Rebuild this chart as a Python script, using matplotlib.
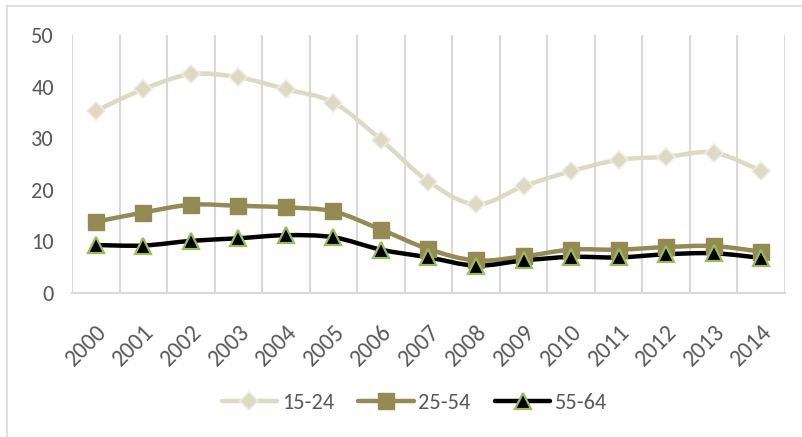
import matplotlib
matplotlib.use('Agg')
import matplotlib.pyplot as plt
from matplotlib.path import Path
from matplotlib.patches import PathPatch
from matplotlib.lines import Line2D
import numpy as np

# data
years = ['2000', '2001', '2002', '2003', '2004', '2005', '2006', '2007',
         '2008', '2009', '2010', '2011', '2012', '2013', '2014']
age_15_24 = [35.3, 39.5, 42.4, 41.8, 39.5, 36.9, 29.7, 21.6, 17.2, 20.7, 23.6, 25.8, 26.4, 27.2, 23.7]
age_25_54 = [13.8, 15.6, 17.1, 16.9, 16.6, 15.8, 12.3, 8.5, 6.3, 7.1, 8.4, 8.4, 8.9, 9.1, 8.0]
age_55_64 = [9.3, 9.2, 10.1, 10.6, 11.2, 10.8, 8.4, 6.9, 5.3, 6.3, 7.0, 6.9, 7.5, 7.7, 6.8]

plt.rcParams['font.family'] = ['Carlito', 'Lato', 'DejaVu Sans']
text_col = '#595959'
grid_col = '#D9D9D9'


def smooth_path(x, y):
    # excel style smoothed line: catmull-rom segments as cubic beziers
    x = np.asarray(x, float)
    y = np.asarray(y, float)
    verts = [(x[0], y[0])]
    codes = [Path.MOVETO]
    n = len(x)
    for i in range(n - 1):
        x0, y0 = (x[i - 1], y[i - 1]) if i > 0 else (x[i], y[i])
        x3, y3 = (x[i + 2], y[i + 2]) if i + 2 < n else (x[i + 1], y[i + 1])
        c1 = (x[i] + (x[i + 1] - x0) / 6, y[i] + (y[i + 1] - y0) / 6)
        c2 = (x[i + 1] - (x3 - x[i]) / 6, y[i + 1] - (y3 - y[i]) / 6)
        verts += [c1, c2, (x[i + 1], y[i + 1])]
        codes += [Path.CURVE4] * 3
    return Path(verts, codes)


fig = plt.figure(figsize=(8.03, 4.37), dpi=100)
ax = fig.add_axes([72 / 803, 1 - 293 / 437, (785 - 72) / 803, (293 - 35) / 437])

xs = np.arange(len(years))

series = [
    (age_15_24, '15-24', '#DDD9C3', dict(marker='D', markersize=9, markerfacecolor='#DDD9C3',
                                         markeredgecolor='#EEECE1', markeredgewidth=1.2)),
    (age_25_54, '25-54', '#948A54', dict(marker='s', markersize=11, markerfacecolor='#948A54',
                                         markeredgecolor='#948A54', markeredgewidth=1)),
    (age_55_64, '55-64', '#000000', dict(marker='^', markersize=11, markerfacecolor='#000000',
                                         markeredgecolor='#9BBB59', markeredgewidth=1.6)),
]

handles = []
for vals, name, col, mk in series:
    ax.add_patch(PathPatch(smooth_path(xs, vals), facecolor='none', edgecolor=col,
                           linewidth=3.2, capstyle='round', joinstyle='round', zorder=3))
    ax.plot(xs, vals, linestyle='none', zorder=4, **mk)
    handles.append(Line2D([], [], color=col, linewidth=3.2, solid_capstyle='round', **mk))

ax.set_xlim(-0.5, len(years) - 0.5)
ax.set_ylim(0, 50)
ax.set_yticks([0, 10, 20, 30, 40, 50])
ax.set_xticks(xs)
ax.set_xticklabels(years, rotation=45, ha='right', rotation_mode='anchor', fontweight='light')
ax.set_xticks(np.arange(-0.5, len(years)), minor=True)
ax.grid(True, which='minor', axis='x', color=grid_col, linewidth=1.5)
ax.tick_params(which='both', length=0)
ax.tick_params(axis='x', pad=20, labelsize=17, labelcolor=text_col)
ax.tick_params(axis='y', pad=13, labelsize=16, labelcolor=text_col)
for s in ['top', 'right', 'left']:
    ax.spines[s].set_visible(False)
ax.spines['bottom'].set_color(grid_col)
ax.spines['bottom'].set_linewidth(1.5)

fig.legend(handles, ['15-24', '25-54', '55-64'], loc='center', bbox_to_anchor=(0.516, 0.078),
           ncol=3, frameon=False, fontsize=16, labelcolor=text_col, handlelength=2.5,
           handletextpad=0.2, columnspacing=1.1)

# chart border
fig.add_artist(Line2D([7 / 803, 7 / 803], [0, 1 - 6 / 437], color=grid_col, linewidth=1.2))
fig.add_artist(Line2D([7 / 803, 1], [1 - 6 / 437, 1 - 6 / 437], color=grid_col, linewidth=1.2))

fig.savefig('out.png', dpi=100)
